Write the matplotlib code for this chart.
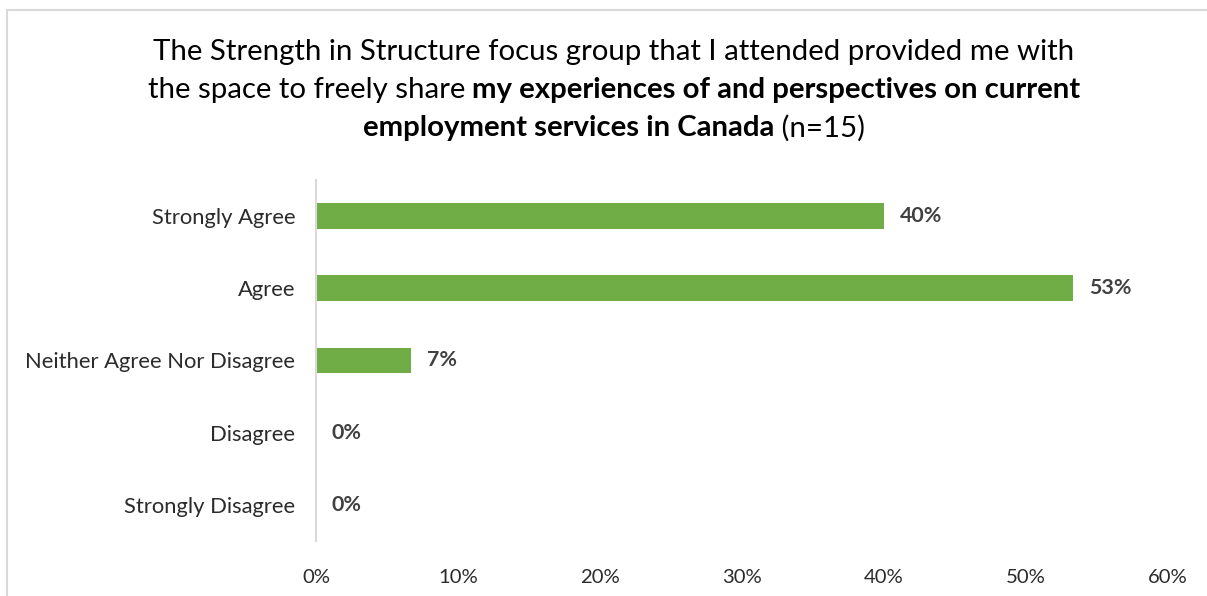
import matplotlib
matplotlib.use("Agg")
import matplotlib.pyplot as plt
from matplotlib.patches import Rectangle

categories = ["Strongly Agree", "Agree", "Neither Agree Nor Disagree",
              "Disagree", "Strongly Disagree"]
values = [40.0, 53.33, 6.67, 0.0, 0.0]
value_labels = ["40%", "53%", "7%", "0%", "0%"]
xticks = [0, 10, 20, 30, 40, 50, 60]
xtick_labels = ["0%", "10%", "20%", "30%", "40%", "50%", "60%"]

FONT = "Lato"
BAR = "#70AD47"
TXT = "#2B2B2B"
VAL = "#404040"
GRID = "#D9D9D9"

W, H = 1207, 596
fig = plt.figure(figsize=(W / 100, H / 100), dpi=100)
fig.patch.set_facecolor("white")

# outer frame
fig.patches.append(Rectangle((7 / W, -0.1), 1.2, (H - 10) / H + 0.1,
                             transform=fig.transFigure, fill=False,
                             edgecolor=GRID, linewidth=1.5))

ax = fig.add_axes([316 / W, 1 - 541 / H, (1168 - 316) / W, (541 - 180) / H])
y = list(range(len(categories)))
ax.barh(y, values, height=0.36, color=BAR, zorder=2)
ax.set_ylim(len(categories) - 0.5, -0.5)
ax.set_xlim(0, 60)
ax.set_xticks(xticks)
ax.set_xticklabels(xtick_labels, fontsize=14.6, color=TXT, family=FONT)
ax.set_yticks(y)
ax.set_yticklabels(categories, fontsize=15.8, color=TXT, family=FONT)
ax.tick_params(axis="both", length=0)
ax.tick_params(axis="x", pad=20)
ax.tick_params(axis="y", pad=15)
for s in ["top", "right", "bottom"]:
    ax.spines[s].set_visible(False)
ax.spines["left"].set_color(GRID)
ax.spines["left"].set_linewidth(1.5)

for yi, v, lab in zip(y, values, value_labels):
    ax.annotate(lab, (v, yi), xytext=(16, 0), textcoords="offset pixels",
                ha="left", va="center", fontsize=15.4, fontweight="bold",
                color=VAL, family=FONT)

# title with mixed weights, each line centred
title_lines = [
    [("The Strength in Structure focus group that I attended provided me with", "normal")],
    [("the space to freely share ", "normal"),
     ("my experiences of and perspectives on current", "bold")],
    [("employment services in Canada", "bold"), (" (n=15)", "normal")],
]
title_y = [52, 90, 128]
cx = 614
fig.canvas.draw()
r = fig.canvas.get_renderer()
for parts, yy in zip(title_lines, title_y):
    texts = []
    for s, wt in parts:
        t = fig.text(0, 1 - yy / H, s, fontsize=21.2, fontweight=wt,
                     family=FONT, color="black", va="center", ha="left")
        texts.append(t)
    widths = [t.get_window_extent(r).width for t in texts]
    x0 = cx - sum(widths) / 2
    for t, w in zip(texts, widths):
        t.set_x(x0 / W)
        x0 += w

fig.savefig("out.png", dpi=100, facecolor="white")
